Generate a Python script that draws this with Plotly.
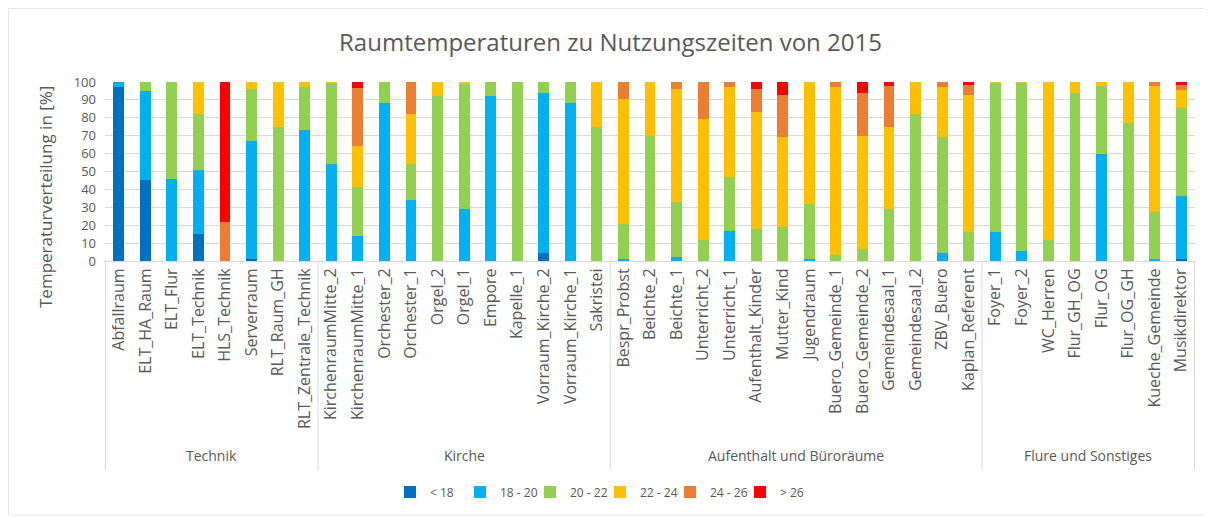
import plotly.graph_objects as go

group_names = ["Technik", "Kirche", "Aufenthalt und Büroräume", "Flure und Sonstiges"]
group_sizes = [8, 11, 14, 8]
rooms = ["Abfallraum", "ELT_HA_Raum", "ELT_Flur", "ELT_Technik", "HLS_Technik", "Serverraum",
         "RLT_Raum_GH", "RLT_Zentrale_Technik",
         "KirchenraumMitte_2", "KirchenraumMitte_1", "Orchester_2", "Orchester_1", "Orgel_2",
         "Orgel_1", "Empore", "Kapelle_1", "Vorraum_Kirche_2", "Vorraum_Kirche_1", "Sakristei",
         "Bespr_Probst", "Beichte_2", "Beichte_1", "Unterricht_2", "Unterricht_1",
         "Aufenthalt_Kinder", "Mutter_Kind", "Jugendraum", "Buero_Gemeinde_1",
         "Buero_Gemeinde_2", "Gemeindesaal_1", "Gemeindesaal_2", "ZBV_Buero", "Kaplan_Referent",
         "Foyer_1", "Foyer_2", "WC_Herren", "Flur_GH_OG", "Flur_OG", "Flur_OG_GH",
         "Kueche_Gemeinde", "Musikdirektor"]

lt18 = [97, 45, 0, 15, 0, 1, 0, 0,
        0, 0, 0, 0, 0, 0, 0, 0, 4.7, 0, 0,
        0, 0, 0, 0, 0, 0, 0, 0, 0, 0, 0, 0, 0, 0,
        0, 0, 0, 0, 0, 0, 0, 1.3]
t18_20 = [3, 50, 46, 36, 0, 66, 0, 73,
          54, 14, 88, 34, 0, 29, 92, 0, 89.3, 88, 0,
          1.3, 0, 2, 0, 17, 0, 0, 1.3, 0, 0, 0, 0, 4.7, 0,
          16, 5.6, 0, 0, 60, 0, 1.3, 35.2]
t20_22 = [0, 5, 54, 31, 0, 29, 75, 24,
          45.5, 27.5, 12, 20, 92, 70, 8, 100, 6, 12, 75,
          19.2, 70, 31, 12, 30, 18, 19, 30.7, 3.4, 6.5, 29, 82, 64.3, 16,
          83.6, 94, 12, 94, 37.8, 77, 26.2, 48.9]
t22_24 = [0, 0, 0, 18, 0, 4, 25, 3,
          0.5, 23, 0, 28, 8, 1, 0, 0, 0, 0, 25,
          70.1, 30, 63, 67.4, 50, 65, 50, 68, 93.6, 63.5, 46, 18, 28, 77,
          0.4, 0.4, 88, 6, 2.2, 23, 70.5, 9.9]
t24_26 = [0, 0, 0, 0, 22, 0, 0, 0,
          0, 32.1, 0, 18, 0, 0, 0, 0, 0, 0, 0,
          9.4, 0, 4, 20.6, 3, 13, 23.5, 0, 3, 24, 23, 0, 3, 5.5,
          0, 0, 0, 0, 0, 0, 2, 3.2]
gt26 = [0, 0, 0, 0, 78, 0, 0, 0,
        0, 3.4, 0, 0, 0, 0, 0, 0, 0, 0, 0,
        0, 0, 0, 0, 0, 4, 7.5, 0, 0, 6, 2, 0, 0, 1.5,
        0, 0, 0, 0, 0, 0, 0, 1.5]

series_names = ["< 18", "18 - 20", "20 - 22", "22 - 24", "24 - 26", "> 26"]
series_values = [lt18, t18_20, t20_22, t22_24, t24_26, gt26]
colors = ["#0070C0", "#00B0F0", "#92D050", "#FFC000", "#ED7D31", "#FF0000"]

FONT = "Open Sans, Lato, sans-serif"
GREY = "#595959"
LINE = "#D9D9D9"

# figure is placed at (8, 8) on the page by the default body margin
W, H = 1205, 510
L, R, T, B = 97, 18, 74, 257
PW, PH = W - L - R, H - T - B


def py(fig_px):
    return (H - B - fig_px) / PH


def px(fig_px):
    return (fig_px - L) / PW


fig = go.Figure()
for name, vals, col in zip(series_names, series_values, colors):
    fig.add_trace(go.Bar(x=rooms, y=vals, name=name, marker_color=col, marker_line_width=0))

fig.update_layout(
    barmode="stack",
    bargap=0.59,
    width=W, height=H,
    paper_bgcolor="white", plot_bgcolor="white",
    margin=dict(l=L, r=R, t=T, b=B, autoexpand=False),
    font=dict(family=FONT, color=GREY, size=13),
    title=dict(text="Raumtemperaturen zu Nutzungszeiten von 2015", x=0.5, xanchor="center",
               xref="container", y=1 - 35 / H, yanchor="middle",
               font=dict(size=24, color=GREY)),
    legend=dict(orientation="h", x=px(592), xanchor="center", y=py(484), yanchor="middle",
                font=dict(size=12, color=GREY), itemwidth=30, traceorder="normal",
                entrywidth=25, entrywidthmode="pixels"),
    showlegend=True,
)
fig.update_yaxes(range=[0, 100], dtick=10, showgrid=True, gridcolor=LINE,
                 zeroline=False, showline=False, tickfont=dict(size=13), ticks="",
                 ticklabelstandoff=8)
fig.update_xaxes(type="category", tickangle=-90, showline=True, linecolor=LINE,
                 tickfont=dict(size=16), ticks="", automargin=False)

# y axis title, placed as in the reference (slightly below the plot centre)
fig.add_annotation(x=px(37), y=py(189), xref="paper", yref="paper",
                   text="Temperaturverteilung in [%]", textangle=-90, showarrow=False,
                   font=dict(size=17, color=GREY), xanchor="center", yanchor="middle")

# group labels and dividers on the category axis
div_y = py(462)
start = 0
boundaries = [-0.5]
for gname, gsize in zip(group_names, group_sizes):
    center = start + (gsize - 1) / 2
    fig.add_annotation(x=center, y=py(447), xref="x", yref="paper", text=gname,
                       showarrow=False, font=dict(size=14, color=GREY), yanchor="middle")
    start += gsize
    boundaries.append(start - 0.5)
for b in boundaries:
    fig.add_shape(type="line", xref="x", yref="paper", x0=b, x1=b, y0=0, y1=div_y,
                  line=dict(color=LINE, width=1))

fig.add_shape(type="rect", xref="paper", yref="paper",
              x0=px(0.5), x1=px(W - 2), y0=py(H - 3), y1=py(0.5),
              line=dict(color="#E6E6E6", width=1))

fig.write_html("out.html")
